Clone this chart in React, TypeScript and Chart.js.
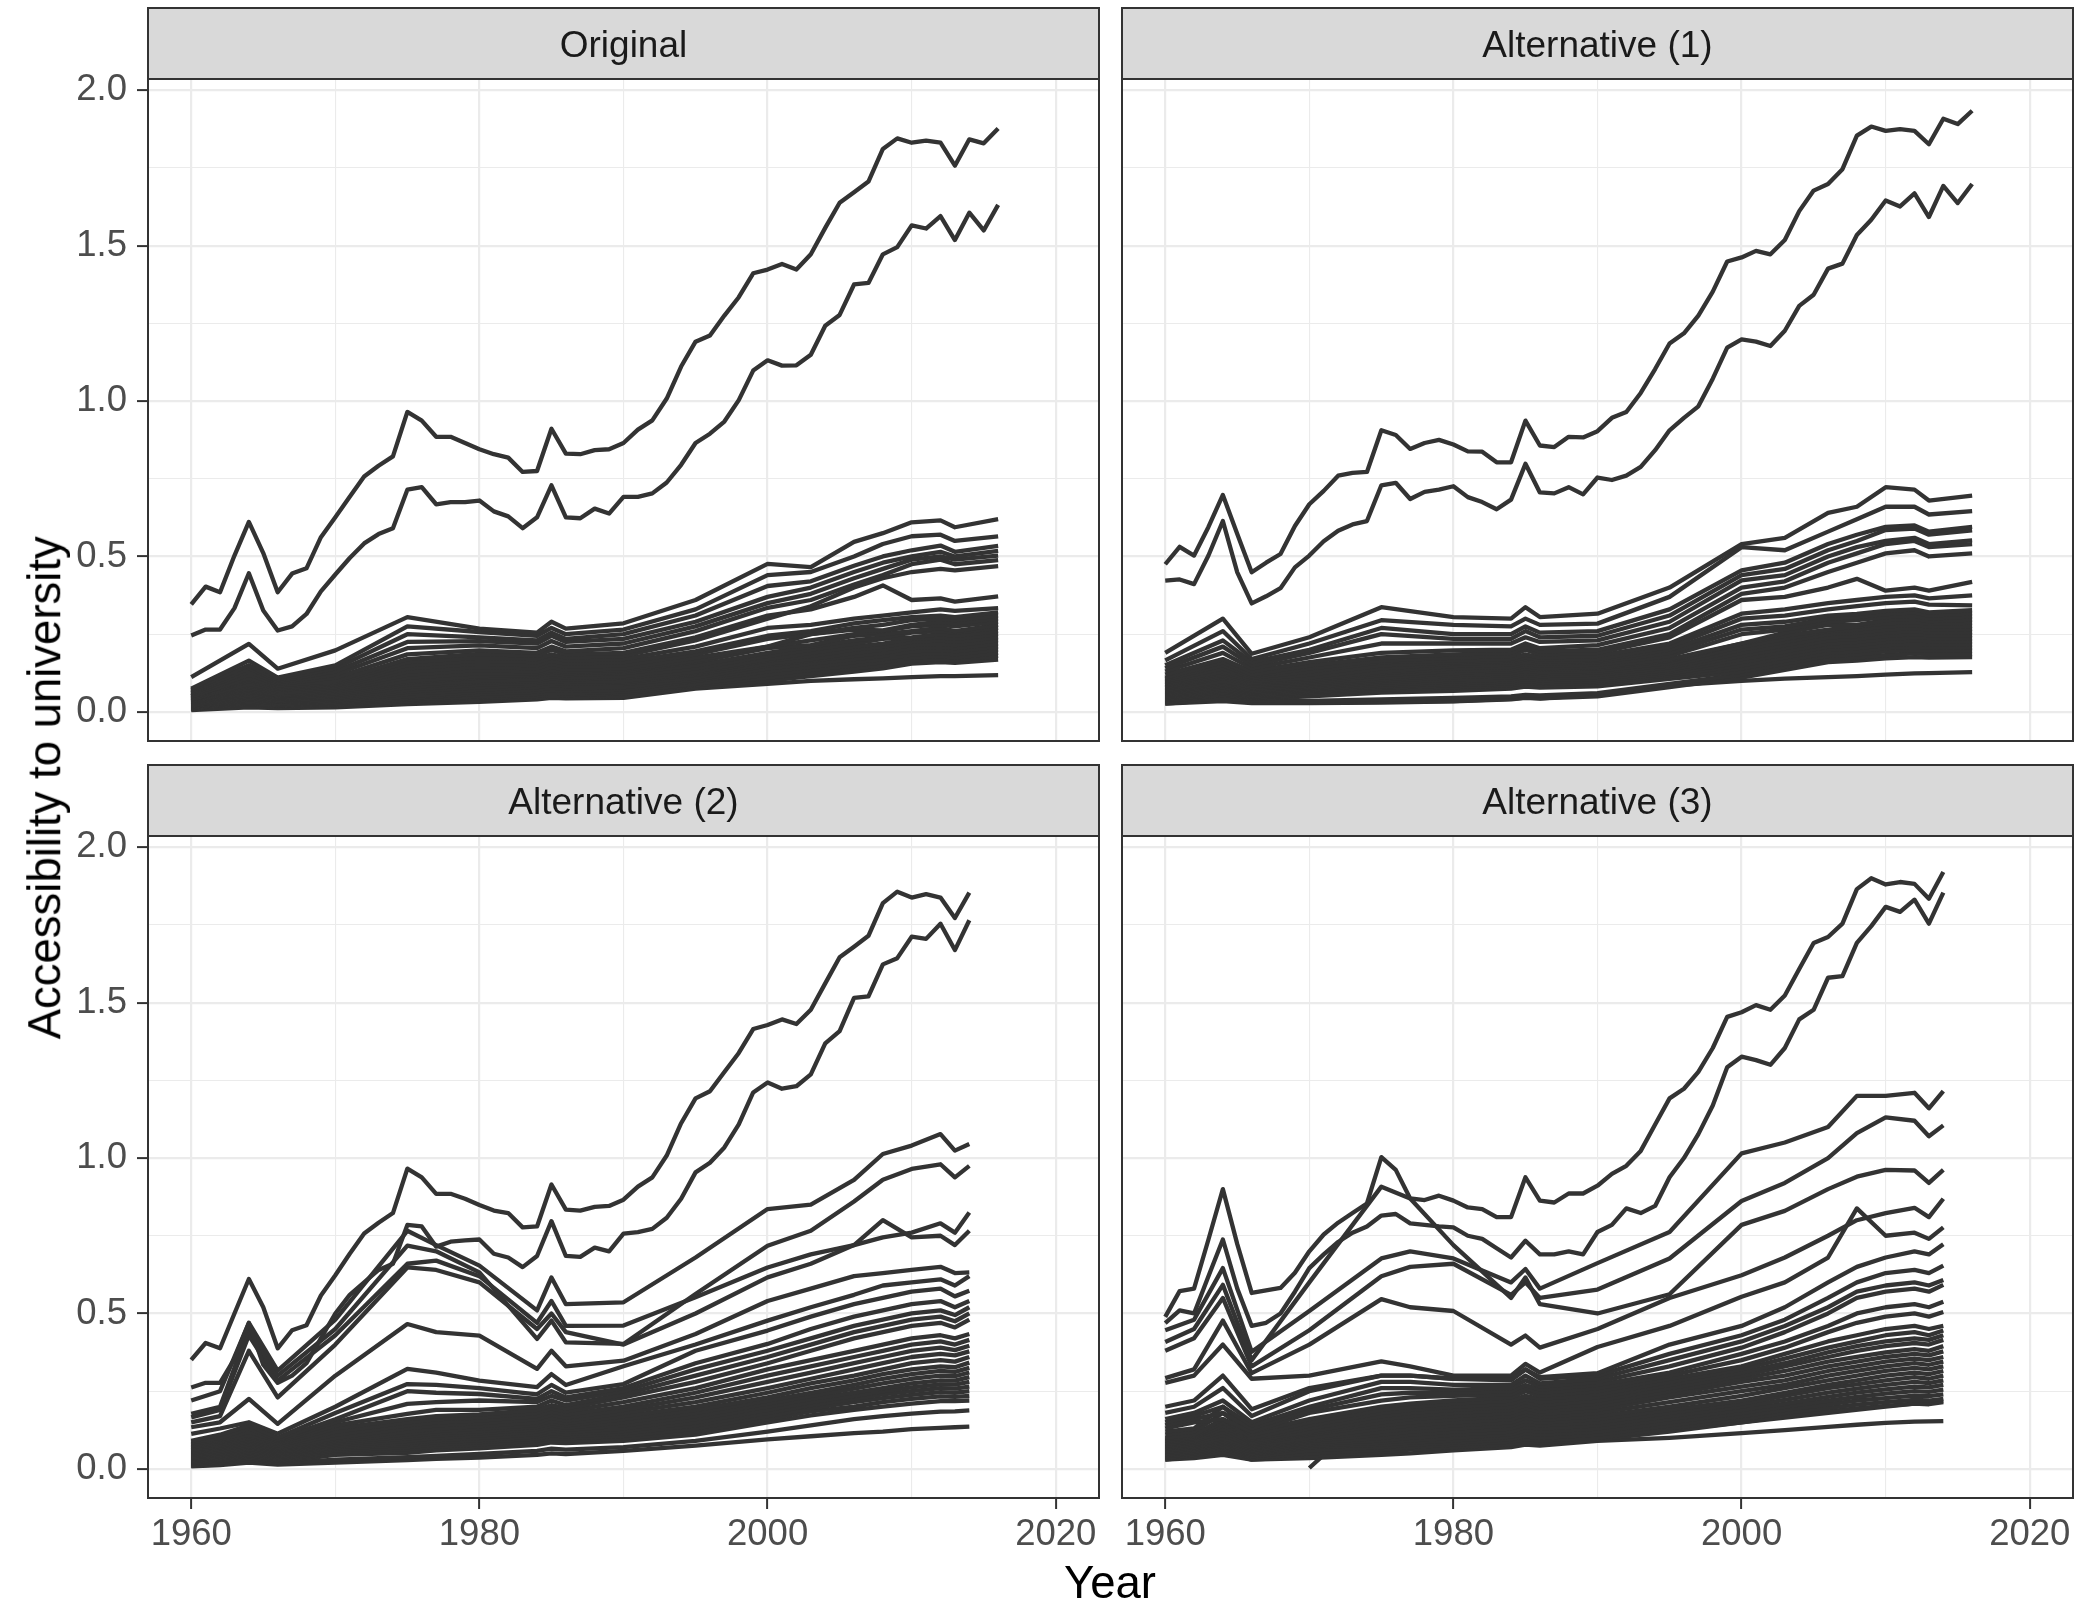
import React, { useEffect, useRef } from 'react';
import { Chart, registerables } from 'chart.js';

Chart.register(...registerables);

// ---------- categories / ticks ----------
const YEARS_FULL = [1960,1961,1962,1963,1964,1965,1966,1967,1968,1969,1970,1971,1972,1973,1974,1975,1976,1977,1978,1979,1980,1981,1982,1983,1984,1985,1986,1987,1988,1989,1990,1991,1992,1993,1994,1995,1996,1997,1998,1999,2000,2001,2002,2003,2004,2005,2006,2007,2008,2009,2010,2011,2012,2013,2014,2015,2016];
const TOP_BUNDLE_YEARS = [1960, 1964, 1966, 1970, 1975, 1980, 1984, 1985, 1986, 1990, 1995, 2000, 2003, 2006, 2008, 2010, 2012, 2013, 2016];
const BOTTOM_BUNDLE_YEARS = [1960, 1962, 1964, 1966, 1970, 1975, 1977, 1980, 1984, 1985, 1986, 1990, 1995, 2000, 2003, 2006, 2008, 2010, 2012, 2013, 2014];
const X_TICKS = [1960, 1970, 1980, 1990, 2000, 2010, 2020];
const Y_TICKS = [0, 0.25, 0.5, 0.75, 1, 1.25, 1.5, 1.75, 2];
const PANEL_TITLES = ['Original', 'Alternative (1)', 'Alternative (2)', 'Alternative (3)'];

// ---------- Original ----------
const ORIG_TOP1 = [0.346,0.403,0.385,0.503,0.611,0.511,0.385,0.445,0.462,0.562,0.626,0.692,0.757,0.792,0.822,0.965,0.937,0.885,0.885,0.865,0.845,0.829,0.818,0.772,0.775,0.911,0.831,0.829,0.842,0.845,0.865,0.908,0.938,1.008,1.111,1.191,1.211,1.275,1.334,1.411,1.423,1.441,1.423,1.472,1.557,1.638,1.672,1.706,1.811,1.845,1.831,1.838,1.831,1.757,1.842,1.829,1.877];
const ORIG_TOP2 = [0.246,0.265,0.265,0.334,0.446,0.326,0.262,0.275,0.315,0.388,0.442,0.495,0.542,0.572,0.591,0.715,0.723,0.668,0.675,0.675,0.680,0.645,0.629,0.591,0.626,0.729,0.626,0.623,0.654,0.638,0.692,0.692,0.703,0.738,0.795,0.865,0.895,0.934,1.003,1.098,1.131,1.114,1.115,1.149,1.242,1.277,1.375,1.380,1.472,1.495,1.565,1.555,1.595,1.518,1.606,1.549,1.631];
const ORIG_BUNDLE = [
  [0.112,0.219,0.139,0.198,0.305,0.268,0.255,0.29,0.268,0.285,0.36,0.476,0.466,0.547,0.575,0.61,0.616,0.594,0.62],
  [0.075,0.165,0.11,0.15,0.275,0.257,0.245,0.27,0.25,0.265,0.33,0.44,0.45,0.5,0.54,0.565,0.57,0.55,0.565],
  [0.07,0.15,0.105,0.14,0.25,0.24,0.23,0.255,0.235,0.25,0.31,0.405,0.42,0.47,0.5,0.52,0.535,0.515,0.534],
  [0.065,0.14,0.1,0.13,0.225,0.228,0.22,0.245,0.225,0.235,0.29,0.37,0.4,0.45,0.48,0.5,0.515,0.5,0.518],
  [0.06,0.13,0.095,0.12,0.205,0.214,0.205,0.228,0.21,0.22,0.275,0.35,0.38,0.43,0.46,0.49,0.5,0.49,0.503],
  [0.055,0.12,0.09,0.11,0.185,0.198,0.19,0.21,0.195,0.205,0.26,0.335,0.36,0.41,0.44,0.475,0.49,0.475,0.488],
  [0.05,0.11,0.085,0.1,0.17,0.187,0.18,0.2,0.185,0.19,0.24,0.31,0.33,0.37,0.407,0.36,0.365,0.355,0.372],
  [0.05,0.105,0.08,0.095,0.16,0.175,0.17,0.185,0.175,0.18,0.23,0.3,0.34,0.4,0.43,0.45,0.46,0.455,0.469],
  [0.045,0.1,0.075,0.09,0.15,0.165,0.16,0.175,0.165,0.17,0.21,0.27,0.28,0.3,0.31,0.32,0.33,0.325,0.334],
  [0.042,0.09,0.07,0.085,0.14,0.155,0.15,0.165,0.155,0.16,0.195,0.245,0.26,0.285,0.295,0.305,0.31,0.305,0.32],
  [0.04,0.085,0.065,0.08,0.13,0.145,0.14,0.155,0.145,0.15,0.185,0.235,0.25,0.27,0.28,0.295,0.3,0.295,0.31],
  [0.038,0.08,0.06,0.075,0.12,0.135,0.13,0.145,0.135,0.14,0.175,0.21,0.25,0.265,0.262,0.28,0.29,0.285,0.3],
  [0.035,0.075,0.055,0.07,0.11,0.125,0.125,0.135,0.13,0.135,0.165,0.21,0.23,0.25,0.26,0.275,0.28,0.275,0.29],
  [0.033,0.07,0.052,0.065,0.1,0.115,0.12,0.13,0.125,0.13,0.16,0.205,0.215,0.245,0.25,0.26,0.27,0.26,0.28],
  [0.03,0.065,0.05,0.06,0.095,0.11,0.115,0.122,0.118,0.125,0.15,0.19,0.21,0.23,0.24,0.255,0.26,0.255,0.27],
  [0.028,0.06,0.045,0.055,0.088,0.1,0.105,0.115,0.11,0.115,0.14,0.18,0.2,0.22,0.235,0.24,0.25,0.245,0.26],
  [0.025,0.055,0.042,0.05,0.08,0.095,0.1,0.108,0.104,0.11,0.13,0.17,0.19,0.21,0.22,0.235,0.24,0.235,0.25],
  [0.022,0.05,0.038,0.045,0.072,0.088,0.095,0.1,0.097,0.1,0.125,0.165,0.18,0.2,0.21,0.225,0.23,0.225,0.24],
  [0.02,0.045,0.035,0.04,0.065,0.08,0.088,0.094,0.09,0.095,0.12,0.155,0.17,0.19,0.2,0.215,0.22,0.215,0.23],
  [0.018,0.04,0.032,0.036,0.058,0.072,0.08,0.086,0.083,0.09,0.11,0.15,0.165,0.18,0.19,0.205,0.21,0.205,0.22],
  [0.016,0.036,0.028,0.032,0.05,0.065,0.072,0.078,0.075,0.08,0.105,0.14,0.155,0.17,0.18,0.195,0.2,0.195,0.21],
  [0.014,0.032,0.025,0.028,0.045,0.058,0.065,0.07,0.068,0.072,0.1,0.13,0.145,0.16,0.17,0.185,0.19,0.185,0.2],
  [0.012,0.028,0.022,0.025,0.04,0.05,0.058,0.062,0.06,0.065,0.09,0.12,0.135,0.15,0.16,0.175,0.18,0.175,0.19],
  [0.01,0.024,0.02,0.022,0.035,0.045,0.052,0.056,0.054,0.06,0.085,0.11,0.125,0.14,0.15,0.165,0.17,0.165,0.18],
  [0.008,0.02,0.016,0.02,0.03,0.038,0.046,0.05,0.048,0.05,0.08,0.1,0.115,0.13,0.14,0.155,0.16,0.158,0.168],
  [0.006,0.015,0.012,0.015,0.025,0.032,0.04,0.045,0.044,0.045,0.075,0.09,0.1,0.105,0.108,0.112,0.115,0.115,0.118],
];

// ---------- Alternative (1) ----------
const ALT1_TOP1 = [0.475,0.531,0.503,0.595,0.698,0.572,0.449,0.48,0.508,0.598,0.668,0.711,0.76,0.769,0.772,0.906,0.891,0.846,0.865,0.875,0.86,0.838,0.837,0.803,0.803,0.937,0.857,0.852,0.885,0.883,0.903,0.946,0.965,1.026,1.103,1.185,1.218,1.275,1.352,1.449,1.462,1.483,1.472,1.518,1.611,1.677,1.698,1.746,1.854,1.883,1.869,1.875,1.869,1.826,1.908,1.891,1.934];
const ALT1_TOP2 = [0.422,0.426,0.411,0.503,0.614,0.449,0.349,0.372,0.398,0.465,0.503,0.549,0.583,0.603,0.614,0.729,0.737,0.685,0.708,0.715,0.726,0.691,0.675,0.652,0.683,0.798,0.706,0.703,0.723,0.7,0.754,0.746,0.76,0.788,0.842,0.906,0.946,0.983,1.072,1.172,1.198,1.191,1.177,1.226,1.306,1.342,1.426,1.442,1.534,1.583,1.645,1.626,1.668,1.592,1.692,1.637,1.698];
const ALT1_BUNDLE = [
  [0.19,0.3,0.187,0.24,0.337,0.305,0.3,0.337,0.305,0.316,0.4,0.54,0.56,0.64,0.66,0.723,0.715,0.68,0.696],
  [0.166,0.26,0.17,0.22,0.295,0.28,0.275,0.3,0.28,0.284,0.37,0.53,0.52,0.58,0.62,0.66,0.66,0.635,0.646],
  [0.15,0.23,0.16,0.2,0.27,0.25,0.25,0.275,0.255,0.26,0.33,0.455,0.48,0.54,0.57,0.595,0.6,0.58,0.595],
  [0.14,0.21,0.15,0.19,0.25,0.235,0.235,0.26,0.24,0.245,0.31,0.44,0.46,0.52,0.55,0.585,0.59,0.57,0.584],
  [0.13,0.19,0.14,0.175,0.22,0.22,0.22,0.24,0.225,0.23,0.29,0.423,0.44,0.5,0.53,0.55,0.56,0.54,0.552],
  [0.12,0.17,0.13,0.16,0.19,0.198,0.2,0.22,0.205,0.215,0.27,0.4,0.42,0.48,0.51,0.54,0.55,0.53,0.54],
  [0.11,0.16,0.12,0.15,0.175,0.185,0.19,0.21,0.195,0.2,0.25,0.38,0.4,0.45,0.48,0.51,0.52,0.5,0.51],
  [0.105,0.15,0.115,0.14,0.165,0.175,0.18,0.2,0.185,0.19,0.24,0.36,0.37,0.4,0.428,0.39,0.4,0.39,0.418],
  [0.1,0.14,0.11,0.13,0.16,0.166,0.17,0.185,0.175,0.18,0.22,0.316,0.33,0.35,0.36,0.37,0.375,0.365,0.375],
  [0.095,0.13,0.105,0.12,0.15,0.16,0.165,0.175,0.168,0.17,0.21,0.3,0.31,0.33,0.34,0.35,0.355,0.345,0.343],
  [0.09,0.125,0.1,0.11,0.14,0.155,0.16,0.17,0.162,0.165,0.2,0.28,0.29,0.31,0.315,0.325,0.33,0.32,0.327],
  [0.085,0.12,0.095,0.105,0.13,0.148,0.152,0.162,0.155,0.16,0.19,0.265,0.275,0.3,0.305,0.315,0.32,0.31,0.317],
  [0.08,0.115,0.09,0.1,0.125,0.14,0.145,0.155,0.148,0.152,0.18,0.25,0.265,0.29,0.295,0.305,0.31,0.3,0.307],
  [0.075,0.11,0.085,0.095,0.118,0.132,0.138,0.148,0.14,0.145,0.17,0.22,0.255,0.28,0.28,0.295,0.3,0.292,0.297],
  [0.07,0.1,0.08,0.09,0.11,0.125,0.132,0.14,0.135,0.14,0.165,0.22,0.245,0.265,0.275,0.285,0.29,0.283,0.287],
  [0.066,0.095,0.075,0.085,0.105,0.118,0.125,0.133,0.128,0.133,0.158,0.21,0.235,0.26,0.265,0.275,0.28,0.274,0.277],
  [0.062,0.09,0.07,0.08,0.1,0.112,0.118,0.126,0.122,0.127,0.15,0.2,0.225,0.25,0.255,0.265,0.27,0.265,0.267],
  [0.058,0.085,0.066,0.076,0.094,0.105,0.112,0.12,0.115,0.12,0.143,0.19,0.215,0.24,0.245,0.255,0.26,0.256,0.257],
  [0.054,0.08,0.062,0.072,0.088,0.098,0.105,0.113,0.108,0.113,0.136,0.18,0.205,0.23,0.235,0.245,0.25,0.247,0.247],
  [0.05,0.075,0.058,0.068,0.082,0.092,0.098,0.106,0.102,0.106,0.13,0.17,0.195,0.22,0.225,0.235,0.24,0.238,0.237],
  [0.046,0.07,0.054,0.064,0.077,0.086,0.092,0.1,0.096,0.1,0.124,0.16,0.185,0.21,0.215,0.225,0.23,0.228,0.227],
  [0.042,0.065,0.05,0.06,0.072,0.08,0.086,0.093,0.09,0.094,0.118,0.15,0.175,0.2,0.205,0.215,0.22,0.218,0.217],
  [0.038,0.06,0.046,0.055,0.067,0.074,0.08,0.087,0.084,0.088,0.112,0.14,0.165,0.19,0.195,0.205,0.21,0.208,0.207],
  [0.034,0.055,0.042,0.05,0.062,0.068,0.075,0.081,0.078,0.082,0.106,0.13,0.155,0.18,0.185,0.195,0.2,0.198,0.197],
  [0.03,0.045,0.036,0.035,0.04,0.045,0.05,0.055,0.053,0.06,0.09,0.12,0.145,0.17,0.175,0.183,0.188,0.186,0.186],
  [0.027,0.04,0.03,0.03,0.032,0.035,0.042,0.046,0.044,0.05,0.08,0.11,0.135,0.16,0.165,0.172,0.176,0.175,0.176],
  [0.027,0.035,0.028,0.028,0.03,0.034,0.04,0.045,0.043,0.057,0.085,0.1,0.107,0.112,0.115,0.12,0.124,0.125,0.128],
];

// ---------- Alternative (2) ----------
const ALT2_TOP1 = [0.351,0.405,0.388,0.5,0.611,0.52,0.388,0.446,0.462,0.558,0.623,0.692,0.757,0.792,0.823,0.966,0.938,0.885,0.885,0.869,0.849,0.831,0.823,0.777,0.78,0.915,0.834,0.831,0.843,0.846,0.866,0.908,0.938,1.008,1.112,1.192,1.215,1.277,1.338,1.415,1.428,1.446,1.431,1.477,1.562,1.646,1.68,1.715,1.82,1.857,1.838,1.849,1.838,1.772,1.854];
const ALT2_TOP2 = [0.262,0.277,0.277,0.354,0.469,0.335,0.277,0.3,0.34,0.42,0.5,0.56,0.6,0.64,0.66,0.785,0.78,0.715,0.731,0.735,0.738,0.692,0.68,0.649,0.685,0.797,0.685,0.682,0.712,0.7,0.757,0.762,0.772,0.808,0.869,0.954,0.985,1.034,1.108,1.211,1.243,1.223,1.231,1.269,1.369,1.408,1.515,1.52,1.623,1.643,1.712,1.705,1.754,1.669,1.765];
const ALT2_BUNDLE = [
  [0.22,0.25,0.47,0.316,0.48,0.766,0.72,0.654,0.51,0.616,0.53,0.536,0.68,0.836,0.85,0.93,1.013,1.04,1.077,1.024,1.045],
  [0.177,0.2,0.45,0.3,0.45,0.718,0.7,0.632,0.418,0.477,0.407,0.402,0.563,0.718,0.766,0.86,0.93,0.965,0.98,0.938,0.975],
  [0.166,0.19,0.43,0.284,0.43,0.66,0.67,0.62,0.47,0.54,0.46,0.461,0.552,0.648,0.69,0.72,0.8,0.745,0.75,0.72,0.766],
  [0.15,0.17,0.38,0.23,0.4,0.648,0.64,0.6,0.45,0.5,0.44,0.4,0.5,0.616,0.66,0.72,0.745,0.76,0.79,0.76,0.825],
  [0.134,0.15,0.225,0.145,0.3,0.466,0.44,0.429,0.322,0.38,0.33,0.348,0.434,0.54,0.58,0.62,0.63,0.64,0.65,0.63,0.632],
  [0.113,0.13,0.15,0.113,0.2,0.322,0.31,0.284,0.263,0.305,0.27,0.33,0.4,0.477,0.52,0.56,0.59,0.6,0.61,0.59,0.62],
  [0.09,0.11,0.14,0.1,0.18,0.273,0.27,0.26,0.24,0.27,0.245,0.273,0.38,0.445,0.49,0.53,0.55,0.57,0.58,0.555,0.573],
  [0.085,0.1,0.13,0.095,0.16,0.25,0.245,0.241,0.225,0.25,0.23,0.26,0.34,0.402,0.45,0.49,0.51,0.53,0.54,0.52,0.54],
  [0.08,0.095,0.12,0.09,0.15,0.209,0.215,0.22,0.215,0.235,0.22,0.25,0.32,0.38,0.42,0.46,0.48,0.5,0.51,0.495,0.52],
  [0.075,0.09,0.11,0.085,0.14,0.177,0.19,0.19,0.2,0.22,0.205,0.24,0.3,0.36,0.4,0.44,0.46,0.48,0.49,0.475,0.5],
  [0.07,0.085,0.105,0.08,0.13,0.16,0.17,0.175,0.19,0.205,0.195,0.23,0.28,0.34,0.38,0.42,0.44,0.46,0.47,0.455,0.48],
  [0.065,0.08,0.1,0.075,0.12,0.15,0.16,0.165,0.18,0.195,0.185,0.215,0.26,0.32,0.35,0.38,0.4,0.42,0.43,0.42,0.434],
  [0.06,0.075,0.095,0.07,0.11,0.14,0.15,0.155,0.17,0.185,0.175,0.2,0.245,0.3,0.33,0.36,0.38,0.4,0.41,0.4,0.415],
  [0.056,0.07,0.09,0.066,0.1,0.13,0.14,0.147,0.16,0.175,0.165,0.19,0.23,0.28,0.31,0.34,0.36,0.38,0.39,0.382,0.396],
  [0.052,0.065,0.085,0.062,0.095,0.12,0.13,0.138,0.15,0.165,0.155,0.18,0.215,0.26,0.29,0.32,0.34,0.36,0.37,0.365,0.378],
  [0.048,0.06,0.08,0.058,0.09,0.112,0.122,0.13,0.142,0.155,0.147,0.17,0.2,0.245,0.275,0.3,0.32,0.34,0.35,0.345,0.36],
  [0.044,0.055,0.075,0.054,0.085,0.105,0.115,0.122,0.135,0.147,0.14,0.16,0.19,0.23,0.26,0.285,0.305,0.32,0.33,0.327,0.342],
  [0.04,0.05,0.07,0.05,0.08,0.098,0.108,0.115,0.128,0.14,0.133,0.15,0.18,0.22,0.245,0.27,0.29,0.305,0.315,0.312,0.325],
  [0.036,0.045,0.065,0.046,0.075,0.09,0.1,0.108,0.12,0.132,0.126,0.14,0.17,0.21,0.235,0.258,0.275,0.29,0.3,0.298,0.31],
  [0.032,0.04,0.06,0.042,0.07,0.083,0.093,0.1,0.112,0.124,0.119,0.13,0.16,0.2,0.225,0.245,0.26,0.275,0.285,0.284,0.295],
  [0.028,0.036,0.055,0.038,0.065,0.077,0.086,0.093,0.105,0.116,0.112,0.122,0.15,0.19,0.215,0.235,0.25,0.262,0.272,0.271,0.28],
  [0.024,0.032,0.05,0.034,0.06,0.07,0.079,0.086,0.098,0.108,0.105,0.114,0.14,0.18,0.205,0.225,0.24,0.25,0.26,0.258,0.265],
  [0.02,0.028,0.045,0.03,0.055,0.064,0.072,0.079,0.091,0.1,0.098,0.106,0.13,0.17,0.195,0.215,0.228,0.238,0.247,0.245,0.25],
  [0.016,0.024,0.04,0.026,0.05,0.058,0.066,0.072,0.084,0.092,0.09,0.098,0.12,0.16,0.185,0.2,0.215,0.225,0.233,0.232,0.235],
  [0.012,0.02,0.035,0.022,0.045,0.052,0.06,0.066,0.077,0.085,0.083,0.09,0.11,0.15,0.172,0.19,0.2,0.21,0.218,0.218,0.22],
  [0.01,0.015,0.028,0.018,0.03,0.038,0.042,0.048,0.058,0.065,0.062,0.07,0.09,0.12,0.14,0.16,0.17,0.178,0.184,0.185,0.188],
  [0.008,0.012,0.02,0.014,0.02,0.028,0.032,0.036,0.045,0.05,0.048,0.058,0.075,0.095,0.105,0.115,0.12,0.128,0.132,0.134,0.136],
];

// ---------- Alternative (3) ----------
const ALT3_TOP1 = [0.489,0.572,0.58,0.738,0.9,0.723,0.566,0.574,0.582,0.631,0.7,0.754,0.792,0.823,0.854,1.003,0.962,0.87,0.865,0.879,0.863,0.841,0.836,0.81,0.81,0.938,0.863,0.857,0.886,0.886,0.911,0.949,0.975,1.023,1.108,1.192,1.223,1.277,1.354,1.454,1.469,1.492,1.477,1.523,1.608,1.692,1.711,1.754,1.865,1.9,1.88,1.888,1.882,1.834,1.92];
const ALT3_TOP2 = [0.469,0.51,0.5,0.62,0.738,0.58,0.46,0.47,0.5,0.57,0.646,0.69,0.73,0.76,0.78,0.815,0.82,0.79,0.785,0.78,0.777,0.75,0.74,0.71,0.68,0.734,0.69,0.69,0.7,0.69,0.762,0.785,0.838,0.823,0.846,0.938,1.0,1.077,1.169,1.292,1.326,1.315,1.3,1.354,1.446,1.477,1.58,1.585,1.692,1.746,1.808,1.792,1.831,1.754,1.854];
const ALT3_BUNDLE = [
  [0.408,0.45,0.592,0.35,0.6,0.908,0.87,0.72,0.55,0.616,0.53,0.5,0.562,0.785,0.83,0.9,0.94,0.962,0.96,0.92,0.962],
  [0.446,0.48,0.646,0.377,0.508,0.677,0.7,0.677,0.6,0.643,0.58,0.662,0.762,1.015,1.05,1.1,1.2,1.2,1.21,1.16,1.215],
  [0.38,0.42,0.55,0.33,0.446,0.62,0.65,0.66,0.56,0.6,0.55,0.577,0.677,0.862,0.92,1.0,1.08,1.131,1.12,1.07,1.105],
  [0.292,0.32,0.477,0.308,0.4,0.546,0.52,0.508,0.4,0.429,0.39,0.45,0.55,0.623,0.68,0.75,0.8,0.823,0.84,0.81,0.869],
  [0.277,0.3,0.4,0.29,0.3,0.346,0.33,0.3,0.3,0.338,0.31,0.392,0.46,0.554,0.6,0.68,0.838,0.75,0.76,0.74,0.777],
  [0.2,0.22,0.3,0.192,0.26,0.3,0.3,0.29,0.29,0.32,0.295,0.308,0.4,0.46,0.52,0.6,0.65,0.68,0.7,0.69,0.723],
  [0.18,0.2,0.26,0.17,0.25,0.3,0.3,0.29,0.285,0.32,0.29,0.3,0.37,0.43,0.48,0.55,0.6,0.63,0.64,0.63,0.654],
  [0.16,0.18,0.22,0.15,0.22,0.28,0.28,0.27,0.27,0.3,0.275,0.29,0.35,0.41,0.46,0.52,0.57,0.59,0.6,0.59,0.608],
  [0.15,0.17,0.2,0.14,0.2,0.26,0.26,0.255,0.26,0.285,0.265,0.28,0.33,0.39,0.44,0.5,0.55,0.57,0.58,0.57,0.592],
  [0.14,0.16,0.18,0.13,0.19,0.24,0.245,0.245,0.25,0.27,0.255,0.27,0.31,0.37,0.41,0.46,0.5,0.52,0.53,0.52,0.538],
  [0.13,0.15,0.16,0.12,0.18,0.22,0.23,0.235,0.24,0.26,0.245,0.26,0.3,0.35,0.39,0.44,0.47,0.49,0.5,0.49,0.505],
  [0.12,0.13,0.2,0.12,0.16,0.2,0.21,0.22,0.23,0.25,0.235,0.25,0.29,0.33,0.37,0.41,0.43,0.45,0.46,0.45,0.46],
  [0.11,0.12,0.18,0.11,0.15,0.19,0.2,0.21,0.22,0.235,0.225,0.24,0.28,0.32,0.355,0.39,0.41,0.43,0.44,0.43,0.445],
  [0.1,0.11,0.16,0.1,0.14,0.18,0.19,0.2,0.21,0.225,0.215,0.23,0.27,0.31,0.34,0.375,0.395,0.41,0.42,0.415,0.43],
  [0.095,0.105,0.15,0.095,0.13,0.17,0.18,0.19,0.2,0.215,0.205,0.22,0.26,0.3,0.33,0.36,0.38,0.395,0.405,0.4,0.415],
  [0.09,0.1,0.14,0.09,0.12,0.16,0.17,0.18,0.19,0.205,0.195,0.21,0.25,0.29,0.315,0.345,0.36,0.375,0.385,0.38,0.395],
  [0.085,0.095,0.13,0.085,0.115,0.15,0.16,0.17,0.18,0.195,0.185,0.2,0.24,0.28,0.3,0.33,0.345,0.36,0.37,0.365,0.378],
  [0.08,0.09,0.12,0.08,0.11,0.14,0.15,0.16,0.17,0.185,0.176,0.19,0.23,0.265,0.285,0.315,0.33,0.345,0.355,0.35,0.36],
  [0.075,0.085,0.11,0.075,0.1,0.13,0.14,0.15,0.16,0.175,0.167,0.18,0.215,0.25,0.27,0.3,0.315,0.33,0.34,0.335,0.345],
  [0.07,0.08,0.1,0.07,0.095,0.12,0.13,0.14,0.15,0.165,0.158,0.17,0.2,0.235,0.26,0.285,0.3,0.315,0.325,0.32,0.33],
  [0.065,0.075,0.095,0.065,0.09,0.11,0.12,0.13,0.14,0.155,0.149,0.16,0.19,0.22,0.245,0.27,0.285,0.3,0.31,0.305,0.315],
  [0.06,0.07,0.09,0.06,0.085,0.1,0.11,0.12,0.13,0.145,0.14,0.15,0.18,0.21,0.235,0.26,0.272,0.285,0.295,0.29,0.3],
  [0.055,0.065,0.085,0.055,0.08,0.092,0.1,0.11,0.12,0.135,0.13,0.14,0.17,0.2,0.222,0.245,0.258,0.27,0.28,0.276,0.285],
  [0.05,0.06,0.08,0.05,0.075,0.085,0.092,0.1,0.112,0.125,0.12,0.13,0.16,0.19,0.21,0.232,0.245,0.256,0.265,0.262,0.27],
  [0.045,0.055,0.075,0.045,0.07,0.078,0.085,0.092,0.104,0.115,0.11,0.12,0.15,0.18,0.2,0.22,0.232,0.242,0.25,0.248,0.255],
  [0.04,0.05,0.07,0.04,0.06,0.07,0.078,0.085,0.096,0.105,0.1,0.11,0.14,0.17,0.19,0.208,0.22,0.228,0.236,0.234,0.24],
  [0.035,0.045,0.065,0.035,0.05,0.062,0.07,0.078,0.088,0.096,0.092,0.1,0.13,0.16,0.18,0.196,0.207,0.215,0.222,0.22,0.225],
  [0.03,0.04,0.055,0.03,0.04,0.055,0.062,0.07,0.08,0.088,0.085,0.095,0.12,0.15,0.17,0.185,0.195,0.203,0.21,0.208,0.215],
  [0.03,0.035,0.045,0.03,0.035,0.045,0.05,0.06,0.07,0.078,0.075,0.09,0.1,0.115,0.125,0.135,0.142,0.148,0.152,0.153,0.154],
];
const ALT3_LATE_YEARS = [1970, 1971, 1973, 1975, 1980, 1990, 2000, 2010, 2014];
const ALT3_LATE_LINE = [0.003, 0.045, 0.055, 0.062, 0.075, 0.1, 0.15, 0.2, 0.22];

// ---------- layout ----------
const FONT = '"Liberation Sans", Arial, Helvetica, sans-serif';
const AXIS_W = 148;
const RIGHT_PAD = 12;
const STRIP_H = 71;
const PLOT_W = 951;
const PLOT_H = 662;
const BOTTOM_SPACE = 100;
const CANVAS_W = AXIS_W + PLOT_W + RIGHT_PAD;
const CANVAS_H = STRIP_H + 8 + PLOT_H + BOTTOM_SPACE;
const PLOT_LEFTS = [148, 1122];
const PLOT_TOPS = [79, 836];
const LINE_W = 4.3;

type Pt = { x: number; y: number };
function pts(years: number[], vals: number[]): Pt[] {
  const out: Pt[] = [];
  const n = Math.min(years.length, vals.length);
  for (let i = 0; i < n; i++) out.push({ x: years[i], y: vals[i] });
  return out;
}

function panelSeries(idx: number): Pt[][] {
  if (idx === 0) return [pts(YEARS_FULL, ORIG_TOP1), pts(YEARS_FULL, ORIG_TOP2), ...ORIG_BUNDLE.map(v => pts(TOP_BUNDLE_YEARS, v))];
  if (idx === 1) return [pts(YEARS_FULL, ALT1_TOP1), pts(YEARS_FULL, ALT1_TOP2), ...ALT1_BUNDLE.map(v => pts(TOP_BUNDLE_YEARS, v))];
  if (idx === 2) return [pts(YEARS_FULL, ALT2_TOP1), pts(YEARS_FULL, ALT2_TOP2), ...ALT2_BUNDLE.map(v => pts(BOTTOM_BUNDLE_YEARS, v))];
  return [pts(YEARS_FULL, ALT3_TOP1), pts(YEARS_FULL, ALT3_TOP2), ...ALT3_BUNDLE.map(v => pts(BOTTOM_BUNDLE_YEARS, v)), pts(ALT3_LATE_YEARS, ALT3_LATE_LINE)];
}

const near = (v: number, step: number) => Math.abs(v / step - Math.round(v / step)) < 1e-6;

const facetPlugin = {
  id: 'facet',
  afterDraw(chart: any, _args: any, opts: any) {
    const { ctx, chartArea: a } = chart;
    ctx.save();
    const w = a.right - a.left;
    const top = a.top - STRIP_H;
    ctx.fillStyle = '#D9D9D9';
    ctx.fillRect(a.left, top, w, STRIP_H);
    ctx.strokeStyle = '#333333';
    ctx.lineWidth = 2;
    ctx.strokeRect(a.left, top, w, STRIP_H);
    ctx.fillStyle = '#1A1A1A';
    ctx.font = `37px ${FONT}`;
    ctx.textAlign = 'center';
    ctx.textBaseline = 'alphabetic';
    ctx.fillText(opts.title, a.left + w / 2, top + STRIP_H / 2 + 13.5);
    ctx.strokeRect(a.left, a.top, w, a.bottom - a.top);
    ctx.restore();
  },
};

function Panel({ idx }: { idx: number }) {
  const ref = useRef<HTMLCanvasElement>(null);
  const col = idx % 2;
  const row = Math.floor(idx / 2);
  const showX = row === 1;
  const showY = col === 0;
  useEffect(() => {
    const series = panelSeries(idx);
    const chart = new Chart(ref.current as HTMLCanvasElement, {
      type: 'line',
      data: {
        datasets: series.map((d, i) => ({
          label: 's' + i,
          data: d,
          borderColor: '#333333',
          borderWidth: LINE_W,
          pointRadius: 0,
          fill: false,
          tension: 0,
          borderJoinStyle: 'round',
          borderCapStyle: 'butt',
        })),
      },
      options: {
        animation: false,
        responsive: false,
        devicePixelRatio: 1,
        events: [],
        layout: { padding: { top: STRIP_H + 8, right: RIGHT_PAD, left: 0, bottom: 0 } },
        plugins: {
          legend: { display: false },
          tooltip: { enabled: false },
          facet: { title: PANEL_TITLES[idx] },
        } as any,
        scales: {
          x: {
            type: 'linear',
            min: 1957,
            max: 2023,
            afterBuildTicks: (s: any) => { s.ticks = X_TICKS.map(v => ({ value: v })); },
            afterFit: (s: any) => { s.height = BOTTOM_SPACE; },
            border: { display: false },
            grid: {
              color: '#EBEBEB',
              lineWidth: (c: any) => (c.tick && near(c.tick.value, 20) ? 2.2 : 1.1),
              drawTicks: showX,
              tickLength: 11,
              tickWidth: 2,
              tickColor: (c: any) => (c.tick && near(c.tick.value, 20) ? '#333333' : 'rgba(0,0,0,0)'),
            },
            ticks: {
              display: showX,
              autoSkip: false,
              maxRotation: 0,
              minRotation: 0,
              padding: 4,
              color: '#4D4D4D',
              font: { family: FONT, size: 36.5 },
              callback: (v: any) => (near(Number(v), 20) ? String(v) : ''),
            },
          },
          y: {
            type: 'linear',
            min: -0.0936,
            max: 2.036,
            afterBuildTicks: (s: any) => { s.ticks = Y_TICKS.map(v => ({ value: v })); },
            afterFit: (s: any) => { s.width = AXIS_W; },
            border: { display: false },
            grid: {
              color: '#EBEBEB',
              lineWidth: (c: any) => (c.tick && near(c.tick.value, 0.5) ? 2.2 : 1.1),
              drawTicks: showY,
              tickLength: 11,
              tickWidth: 2,
              tickColor: (c: any) => (c.tick && near(c.tick.value, 0.5) ? '#333333' : 'rgba(0,0,0,0)'),
            },
            ticks: {
              display: showY,
              autoSkip: false,
              padding: 10,
              color: '#4D4D4D',
              font: { family: FONT, size: 36.5 },
              callback: (v: any) => (near(Number(v), 0.5) ? Number(v).toFixed(1) : ''),
            },
          },
        },
      } as any,
      plugins: [facetPlugin as any],
    });
    return () => chart.destroy();
  }, [idx]);
  return (
    <canvas
      ref={ref}
      width={CANVAS_W}
      height={CANVAS_H}
      style={{
        position: 'absolute',
        left: PLOT_LEFTS[col] - AXIS_W,
        top: PLOT_TOPS[row] - STRIP_H - 8,
        width: CANVAS_W,
        height: CANVAS_H,
      }}
    />
  );
}

export default function App() {
  return (
    <div style={{ position: 'absolute', left: 0, top: 0, width: 2085, height: 1604, background: '#FFFFFF', overflow: 'hidden' }}>
      {[0, 1, 2, 3].map(i => <Panel key={i} idx={i} />)}
      <div
        style={{
          position: 'absolute',
          left: 45 - 400,
          top: 788 - 22.75,
          width: 800,
          height: 45.5,
          lineHeight: '45.5px',
          fontSize: 45.5,
          fontFamily: FONT,
          color: '#000000',
          textAlign: 'center',
          whiteSpace: 'nowrap',
          transform: 'rotate(-90deg)',
          transformOrigin: '50% 50%',
        }}
      >
        Accessibility to university
      </div>
      <div
        style={{
          position: 'absolute',
          left: 1110 - 300,
          top: 1560,
          width: 600,
          height: 45.5,
          lineHeight: '45.5px',
          fontSize: 45.5,
          fontFamily: FONT,
          color: '#000000',
          textAlign: 'center',
          whiteSpace: 'nowrap',
        }}
      >
        Year
      </div>
    </div>
  );
}
